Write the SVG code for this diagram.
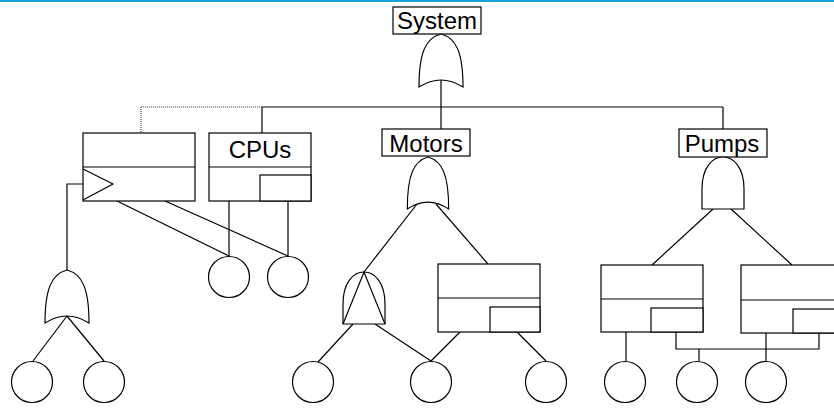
<svg xmlns="http://www.w3.org/2000/svg" width="834" height="408" viewBox="0 0 834 408">
  <style>
    .ln { fill: none; stroke: #000; stroke-width: 1.2; }
    .shape { fill: #fff; stroke: #000; stroke-width: 1.2; }
    .dot { fill: none; stroke: #444; stroke-width: 1.2; stroke-dasharray: 1 1; }
    .lbl { font-family: "Liberation Sans", Arial, sans-serif; font-size: 24px; fill: #000; text-anchor: middle; }
  </style>
  <defs>
    <!-- OR gate, apex at 0,0, 44 wide, 53 tall -->
    <path id="orGate" d="M0,0 C15,4 22,18 22,53 Q0,39 -22,53 C-22,18 -15,4 0,0 Z"/>
    <!-- AND gate, apex at 0,0, 42 wide, 52 tall -->
    <path id="andGate" d="M-21,52 L-21,32 C-21,11 -11,0 0,0 C11,0 21,11 21,32 L21,52 Z"/>
  </defs>

  <rect width="834" height="408" fill="#fff"/>
  <line x1="0" y1="1" x2="834" y2="1" stroke="#1a9fe0" stroke-width="2"/>

  <g id="connectors">
    <!-- top bus -->
    <line class="ln" x1="262" y1="107" x2="723" y2="107"/>
    <line class="dot" x1="141" y1="107" x2="262" y2="107"/>
    <line class="dot" x1="141" y1="107" x2="141" y2="133"/>
    <line class="ln" x1="441" y1="79" x2="441" y2="129"/>
    <line class="ln" x1="262" y1="107" x2="262" y2="133"/>
    <line class="ln" x1="723" y1="107" x2="723" y2="129"/>
    <!-- transfer branch -->
    <polyline class="ln" points="83,184 67,184 67,270"/>
    <line class="ln" x1="67" y1="316" x2="33" y2="361"/>
    <line class="ln" x1="67" y1="316" x2="104" y2="361"/>
    <!-- shared basic events -->
    <line class="ln" x1="117" y1="201" x2="229" y2="256"/>
    <line class="ln" x1="165" y1="201" x2="288" y2="256"/>
    <line class="ln" x1="229" y1="201" x2="229" y2="256"/>
    <line class="ln" x1="288" y1="201" x2="288" y2="256"/>
    <!-- motors -->
    <line class="ln" x1="417" y1="204" x2="364" y2="272"/>
    <line class="ln" x1="436" y1="204" x2="488" y2="264"/>
    <line class="ln" x1="353" y1="324" x2="318" y2="362"/>
    <line class="ln" x1="375" y1="324" x2="431" y2="361"/>
    <line class="ln" x1="460" y1="332" x2="431" y2="361"/>
    <line class="ln" x1="517" y1="332" x2="546" y2="361"/>
    <!-- pumps -->
    <line class="ln" x1="713" y1="209" x2="652" y2="265"/>
    <line class="ln" x1="731" y1="209" x2="792" y2="265"/>
    <line class="ln" x1="626" y1="332" x2="626" y2="361"/>
    <polyline class="ln" points="676,332 676,349 819,349 819,333"/>
    <line class="ln" x1="699" y1="349" x2="699" y2="361"/>
    <line class="ln" x1="766" y1="333" x2="766" y2="361"/>
  </g>

  <g id="system">
    <rect class="shape" x="393" y="7" width="88" height="27"/>
    <text class="lbl" x="437" y="29">System</text>
    <use href="#orGate" class="shape" x="441" y="34"/>
  </g>

  <g id="transfer">
    <rect class="shape" x="83" y="133" width="112" height="68"/>
    <line class="ln" x1="83" y1="167" x2="195" y2="167"/>
    <polyline class="ln" points="83,169 113,184 83,200"/>
  </g>

  <g id="cpus">
    <rect class="shape" x="209" y="133" width="102" height="68"/>
    <line class="ln" x1="209" y1="167" x2="311" y2="167"/>
    <rect class="shape" x="260" y="175" width="51" height="26"/>
    <text class="lbl" x="260" y="158">CPUs</text>
  </g>

  <g id="transferOr">
    <use href="#orGate" class="shape" x="67" y="270"/>
  </g>

  <g id="motors">
    <rect class="shape" x="382" y="129" width="88" height="27"/>
    <text class="lbl" x="426" y="152">Motors</text>
    <use href="#orGate" class="shape" transform="translate(428,157) scale(0.94,0.98)"/>
  </g>

  <g id="motorsAnd">
    <use href="#andGate" class="shape" x="364" y="272"/>
    <polyline class="ln" points="343,324 364,272 385,324"/>
  </g>

  <g id="motorsBox">
    <rect class="shape" x="438" y="264" width="102" height="68"/>
    <line class="ln" x1="438" y1="298" x2="540" y2="298"/>
    <rect class="shape" x="490" y="307" width="50" height="25"/>
  </g>

  <g id="pumps">
    <rect class="shape" x="679" y="129" width="88" height="28"/>
    <text class="lbl" x="722" y="152">Pumps</text>
    <use href="#andGate" class="shape" x="723" y="157"/>
  </g>

  <g id="pumpsBoxA">
    <rect class="shape" x="601" y="265" width="102" height="67"/>
    <line class="ln" x1="601" y1="299" x2="703" y2="299"/>
    <rect class="shape" x="651" y="308" width="52" height="24"/>
  </g>

  <g id="pumpsBoxB">
    <rect class="shape" x="741" y="265" width="102" height="68"/>
    <line class="ln" x1="741" y1="300" x2="843" y2="300"/>
    <rect class="shape" x="793" y="309" width="50" height="24"/>
  </g>

  <g id="events">
    <circle class="shape" cx="32" cy="382" r="20.5"/>
    <circle class="shape" cx="104" cy="382" r="20.5"/>
    <circle class="shape" cx="229" cy="277" r="20.5"/>
    <circle class="shape" cx="288" cy="277" r="20.5"/>
    <circle class="shape" cx="313" cy="382" r="20.5"/>
    <circle class="shape" cx="431" cy="382" r="20.5"/>
    <circle class="shape" cx="546" cy="382" r="20.5"/>
    <circle class="shape" cx="625" cy="382" r="20.5"/>
    <circle class="shape" cx="697" cy="382" r="20.5"/>
    <circle class="shape" cx="766" cy="382" r="20.5"/>
  </g>
</svg>
